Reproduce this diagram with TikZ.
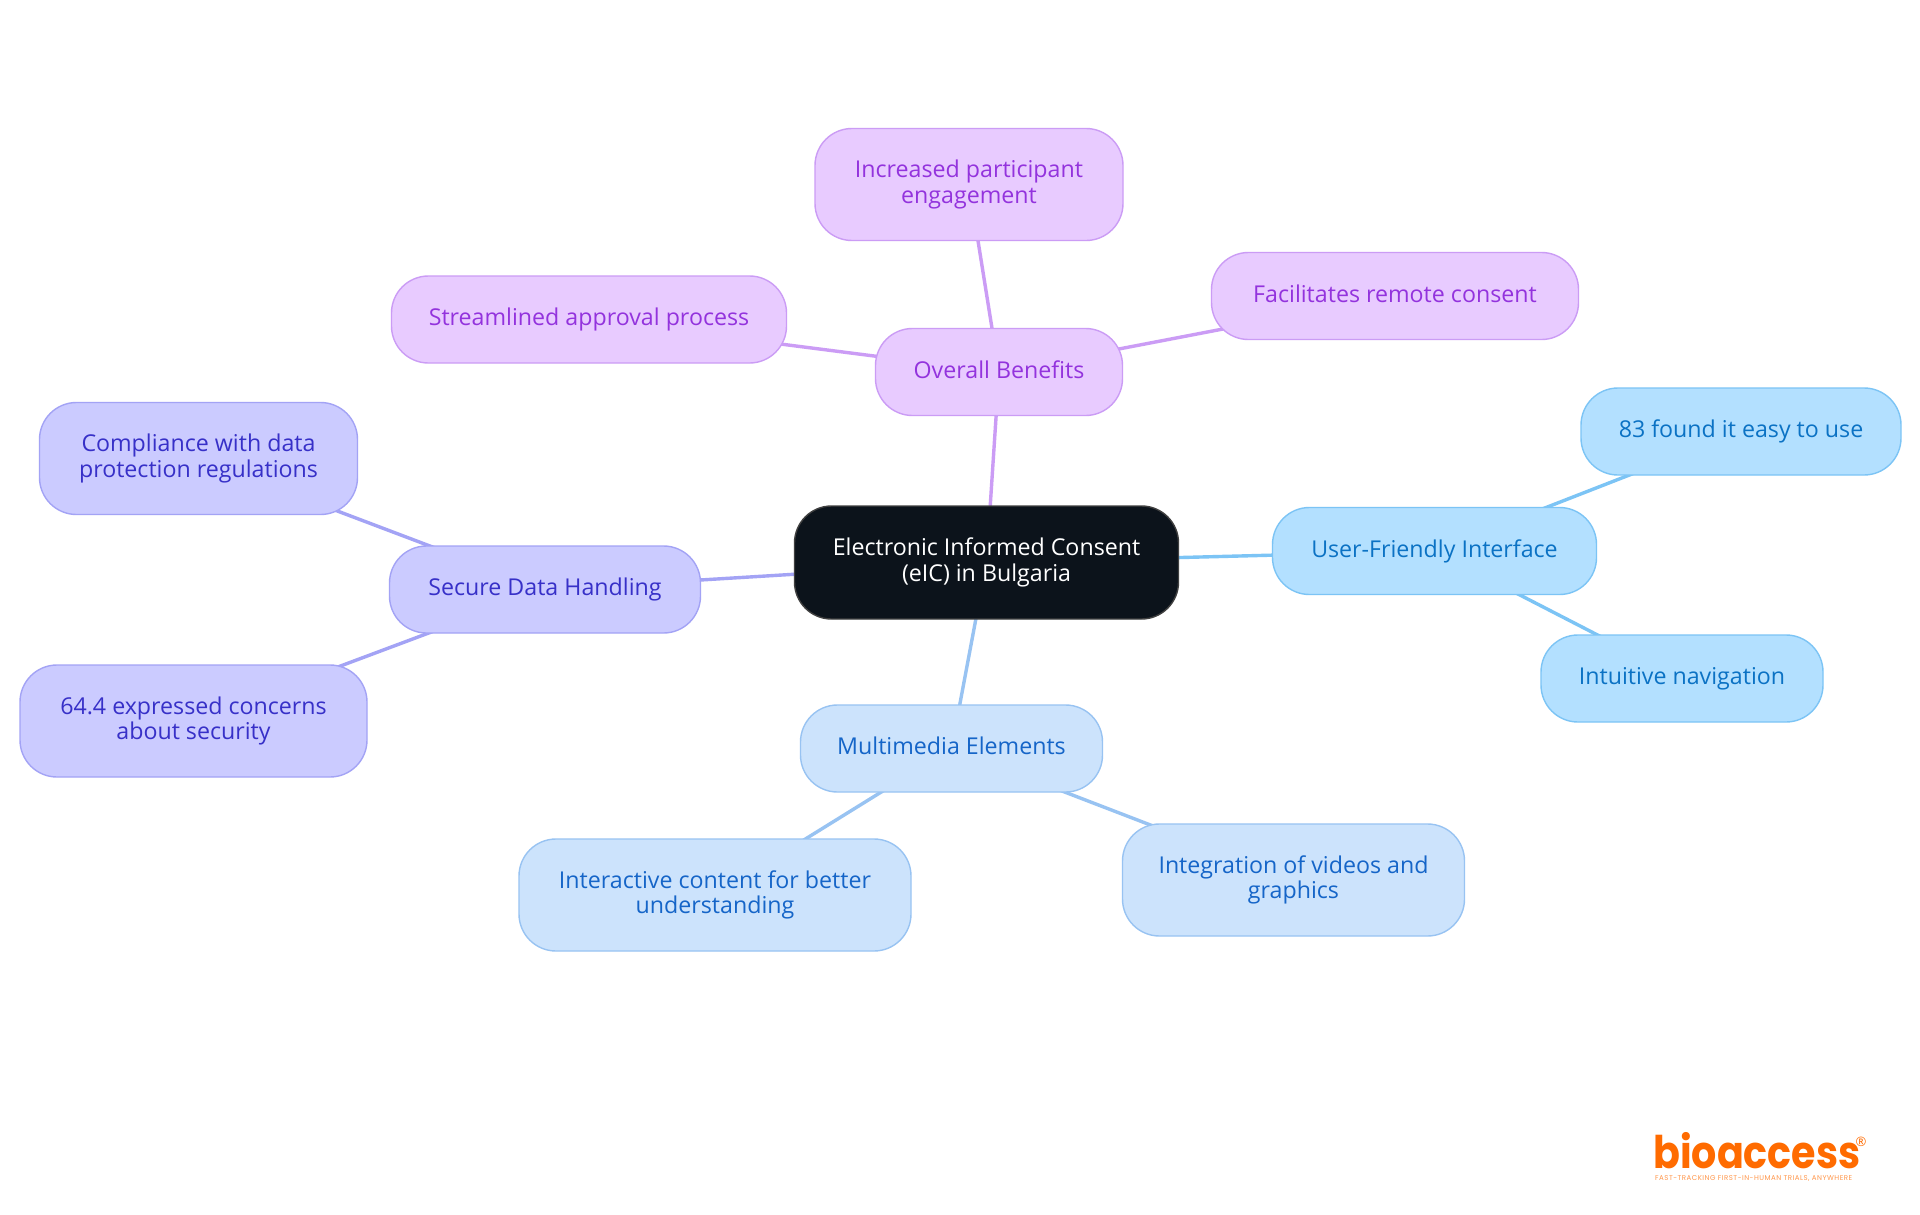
\documentclass[tikz,border=0pt]{standalone}
\usepackage{fontspec}
\setmainfont{Open Sans}
\newfontfamily\logofont[FakeStretch=0.88]{Poppins}
\newfontfamily\tagfont[LetterSpace=7]{Poppins}
\usetikzlibrary{backgrounds}
\definecolor{cblueF}{HTML}{B3E0FF}\definecolor{cblueD}{HTML}{7CC4F5}\definecolor{cblueT}{HTML}{0B72C4}
\definecolor{lblueF}{HTML}{CCE3FC}\definecolor{lblueD}{HTML}{98C3F2}\definecolor{lblueT}{HTML}{1565C8}
\definecolor{violF}{HTML}{CBCBFF}\definecolor{violD}{HTML}{A3A3F5}\definecolor{violT}{HTML}{3730C8}
\definecolor{purpF}{HTML}{E8CBFF}\definecolor{purpD}{HTML}{CB9CF5}\definecolor{purpT}{HTML}{9333DD}
\definecolor{darkF}{HTML}{0C131B}\definecolor{logoO}{HTML}{FF6B00}
\newcommand{\mmstrutA}{\rule[-6pt]{0pt}{24pt}}
\newcommand{\mmstrutB}{\rule[-3.5pt]{0pt}{1pt}}
\tikzset{x=1pt,y=-1pt,
 mm/.style={rounded corners=37pt,line width=1.4pt,align=center,inner sep=0pt,font=\fontsize{23.2}{25.5}\selectfont,
   execute at begin node=\mmstrutA,execute at end node=\mmstrutB},
 cnode/.style={mm,draw=cblueD,fill=cblueF,text=cblueT},
 lnode/.style={mm,draw=lblueD,fill=lblueF,text=lblueT},
 vnode/.style={mm,draw=violD,fill=violF,text=violT},
 pnode/.style={mm,draw=purpD,fill=purpF,text=purpT},
 rootnode/.style={mm,draw=black!75,fill=darkF,text=white},
 cline/.style={line width=3.4pt,draw=cblueD},
 lline/.style={line width=3.4pt,draw=lblueD},
 vline/.style={line width=3.4pt,draw=violD},
 pline/.style={line width=3.4pt,draw=purpD}}
\begin{document}
\begin{tikzpicture}
\useasboundingbox (0,0) rectangle (1920,1215);
\node[rootnode,minimum width=384pt,minimum height=113pt] (root) at (986.5,562.5) {Electronic Informed Consent\\(eIC) in Bulgaria};
\node[pnode,minimum width=247pt,minimum height=87pt] (ob) at (999,372) {Overall Benefits};
\node[pnode,minimum width=308pt,minimum height=112pt] (ip) at (969,184.5) {Increased participant\\engagement};
\node[pnode,minimum width=395pt,minimum height=87pt] (sa) at (589,319.5) {Streamlined approval process};
\node[pnode,minimum width=367pt,minimum height=87pt] (fr) at (1395,296) {Facilitates remote consent};
\node[cnode,minimum width=324pt,minimum height=87pt] (ui) at (1434.5,551) {User-Friendly Interface};
\node[cnode,minimum width=320pt,minimum height=87pt] (e3) at (1741,431.5) {83 found it easy to use};
\node[cnode,minimum width=282pt,minimum height=87pt] (in) at (1682,678.5) {Intuitive navigation};
\node[lnode,minimum width=302pt,minimum height=87pt] (me) at (951.5,748.5) {Multimedia Elements};
\node[lnode,minimum width=392pt,minimum height=112pt] (ic) at (715,895) {Interactive content for better\\understanding};
\node[lnode,minimum width=342pt,minimum height=112pt] (iv) at (1293.5,880) {Integration of videos and\\graphics};
\node[vnode,minimum width=311pt,minimum height=87pt] (sd) at (545,589.5) {Secure Data Handling};
\node[vnode,minimum width=318pt,minimum height=112pt] (cd) at (198.5,458.5) {Compliance with data\\protection regulations};
\node[vnode,minimum width=347pt,minimum height=112pt] (sec) at (193.5,721) {64.4 expressed concerns\\about security};
\node[font=\logofont\bfseries\fontsize{45}{45}\selectfont,text=logoO,inner sep=0pt,anchor=base west] (logo) at (1653,1168) {bioaccess};
\node[font=\tagfont\fontsize{7}{7}\selectfont,text=logoO!70,inner sep=0pt,anchor=base west] (tag) at (1655,1180) {FAST-TRACKING FIRST-IN-HUMAN TRIALS, ANYWHERE};
\node[font=\fontsize{13}{13}\selectfont,text=logoO,inner sep=0pt] (reg) at (1861,1142) {®};
\begin{scope}[on background layer]
\fill[white] (0,0) rectangle (1920,1215);
\draw[pline] (root.center)--(ob.center); \draw[pline] (ob.center)--(ip.center); \draw[pline] (ob.center)--(sa.center); \draw[pline] (ob.center)--(fr.center);
\draw[cline] (root.center)--(ui.center); \draw[cline] (ui.center)--(e3.center); \draw[cline] (ui.center)--(in.center);
\draw[lline] (root.center)--(me.center); \draw[lline] (me.center)--(ic.center); \draw[lline] (me.center)--(iv.center);
\draw[vline] (root.center)--(sd.center); \draw[vline] (sd.center)--(cd.center); \draw[vline] (sd.center)--(sec.center);
\end{scope}
\end{tikzpicture}
\end{document}
